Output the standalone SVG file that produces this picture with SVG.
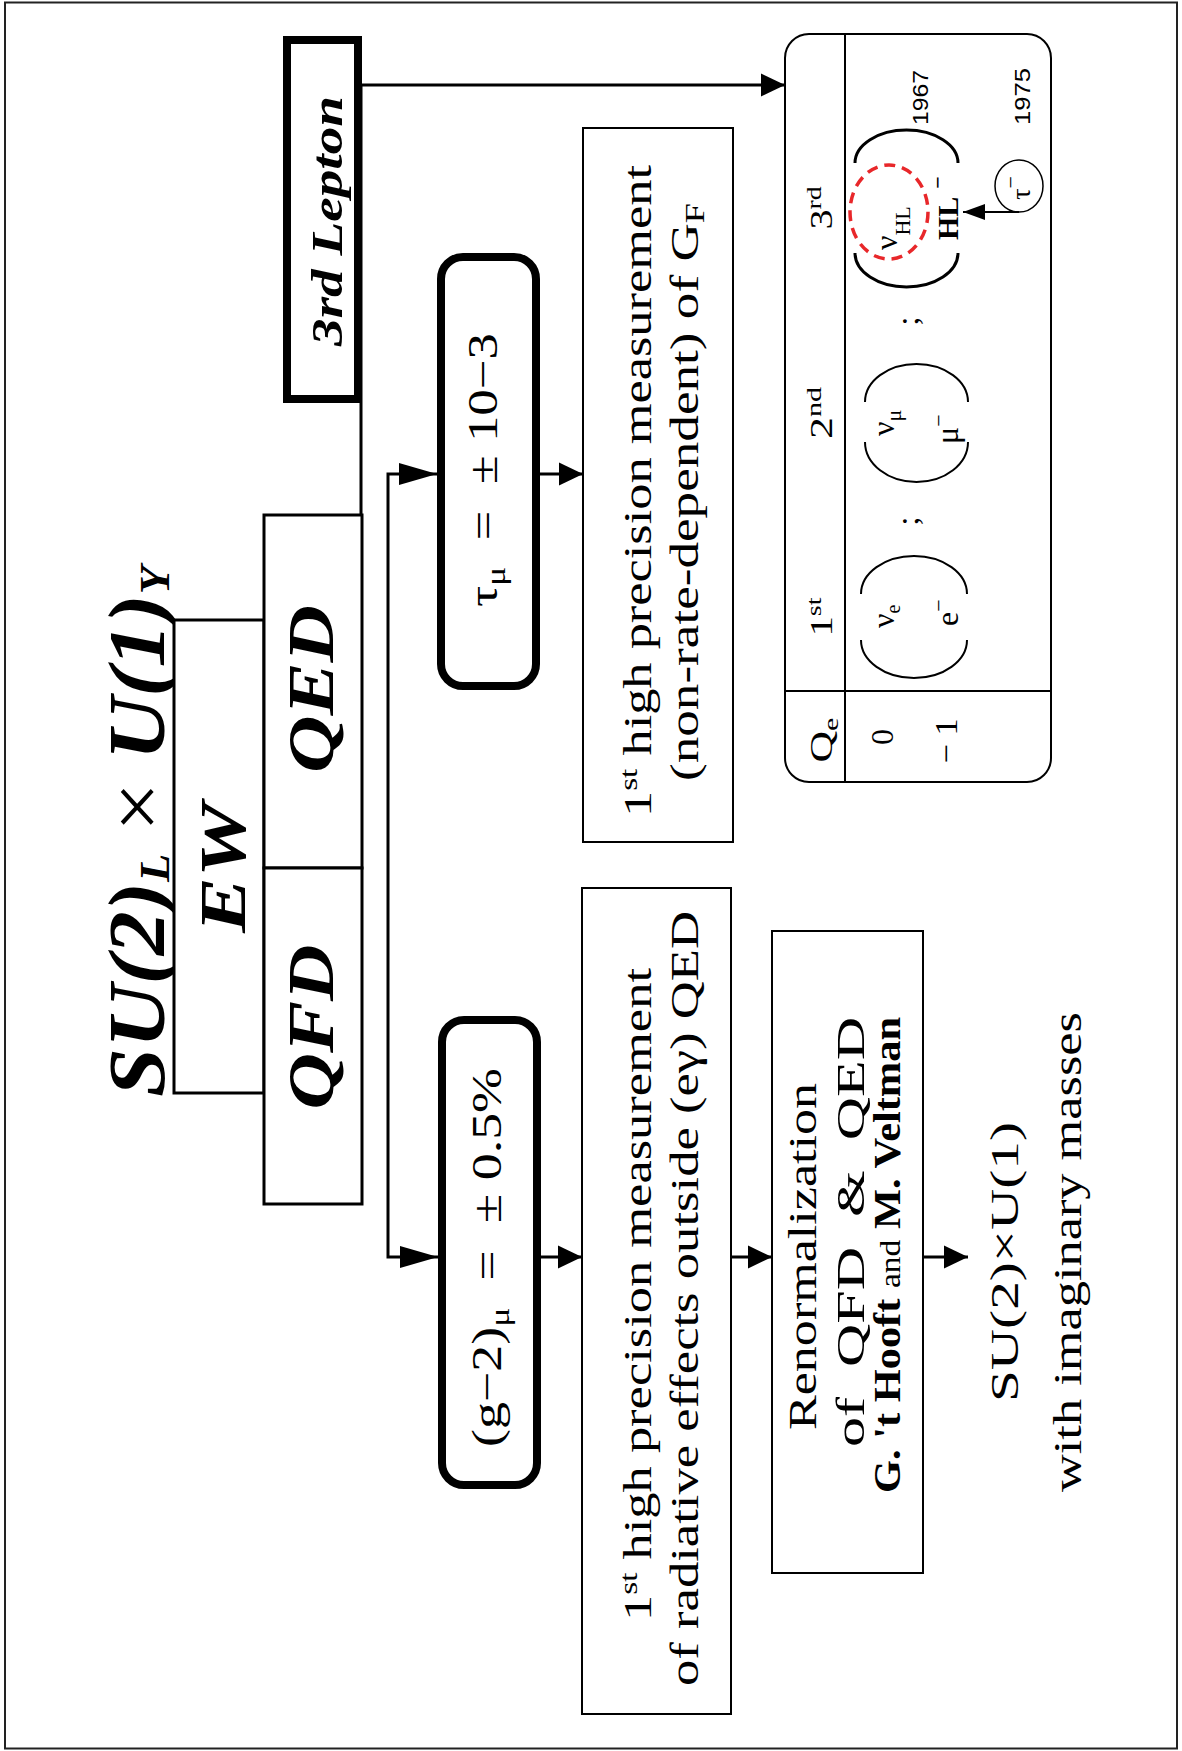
<svg xmlns="http://www.w3.org/2000/svg" width="1182" height="1751" viewBox="0 0 1182 1751">
<style>
.bg{fill:#fff}
.box{fill:#fff;stroke:#000;stroke-width:2}
.mid{stroke-width:3}
.thick{stroke-width:8}
.conn{fill:none;stroke:#000;stroke-width:3}
.thin{fill:none;stroke:#000;stroke-width:2}
.arc3{fill:none;stroke:#000;stroke-width:3}
.serif{font-family:"Liberation Serif","Times New Roman",serif;fill:#000}
.bi{font-weight:bold;font-style:italic}
.b{font-weight:bold}
.sans{font-family:"Liberation Sans",Arial,sans-serif;fill:#000}
</style>
<defs>
<marker id="ah" markerUnits="userSpaceOnUse" markerWidth="26" markerHeight="24" refX="24" refY="12" orient="auto"><path d="M0,0.5 L24,12 L0,23.5 z" fill="#000"/></marker>
<marker id="ahL" markerUnits="userSpaceOnUse" markerWidth="40" markerHeight="24" refX="38" refY="12" orient="auto-start-reverse"><path d="M0,1 L38,12 L0,23 z" fill="#000"/></marker>
<marker id="ahS" markerUnits="userSpaceOnUse" markerWidth="24" markerHeight="18" refX="22" refY="8" orient="auto"><path d="M0,0 L22,8 L0,16 z" fill="#000"/></marker>
</defs>
<rect class="bg" x="0" y="0" width="1182" height="1751"/>
<rect x="5" y="2.5" width="1172" height="1746" fill="none" stroke="#222" stroke-width="2"/>

<g id="title">
<text class="serif bi" transform="translate(164 1097) rotate(-90)" font-size="80" textLength="531" lengthAdjust="spacingAndGlyphs">SU(2)<tspan font-size="42" dy="5">L</tspan><tspan dy="-5"> </tspan><tspan font-weight="normal" font-style="normal">×</tspan> U(1)<tspan font-size="42" dy="5">Y</tspan></text>
</g>

<g id="ew">
<rect class="box mid" x="174" y="620" width="90" height="473"/>
<text class="serif bi" transform="translate(245 933) rotate(-90)" font-size="66" textLength="130" lengthAdjust="spacingAndGlyphs">EW</text>
</g>

<g id="qed">
<rect class="box mid" x="264" y="515" width="98" height="353"/>
<text class="serif bi" transform="translate(333 773) rotate(-90)" font-size="66" textLength="168" lengthAdjust="spacingAndGlyphs">QED</text>
</g>

<g id="qfd">
<rect class="box mid" x="264" y="868" width="98" height="336"/>
<text class="serif bi" transform="translate(333 1109.5) rotate(-90)" font-size="66" textLength="165" lengthAdjust="spacingAndGlyphs">QFD</text>
</g>

<g id="lepton3">
<rect class="box thick" x="287" y="40" width="71" height="359"/>
<text class="serif bi" transform="translate(342 346) rotate(-90)" font-size="44" textLength="250" lengthAdjust="spacingAndGlyphs">3rd Lepton</text>
</g>

<g id="taumu">
<rect class="box thick" x="441" y="257" width="95" height="429" rx="22"/>
<text class="serif" transform="translate(497 607) rotate(-90)" font-size="42" textLength="274" lengthAdjust="spacingAndGlyphs">τ<tspan font-size="28" dy="8">μ</tspan><tspan dy="-8">&#160;&#160;=&#160;&#160;± 10−3</tspan></text>
</g>

<g id="gminus2">
<rect class="box thick" x="442" y="1020" width="95" height="465" rx="22"/>
<text class="serif" transform="translate(501 1447) rotate(-90)" font-size="42" textLength="379" lengthAdjust="spacingAndGlyphs">(g−2)<tspan font-size="28" dy="8">μ</tspan><tspan dy="-8">&#160;&#160;=&#160;&#160;± 0.5%</tspan></text>
</g>

<g id="gf">
<rect class="box" x="583" y="128" width="150" height="714"/>
<text class="serif" transform="translate(651 817) rotate(-90)" font-size="41" textLength="652" lengthAdjust="spacingAndGlyphs">1<tspan font-size="26" dy="-14">st</tspan><tspan dy="14"> high precision measurement</tspan></text>
<text class="serif" transform="translate(698 781) rotate(-90)" font-size="41" textLength="578" lengthAdjust="spacingAndGlyphs">(non-rate-dependent) of G<tspan font-size="28" dy="6">F</tspan></text>
</g>

<g id="radiative">
<rect class="box" x="582" y="888" width="149" height="826"/>
<text class="serif" transform="translate(651 1621) rotate(-90)" font-size="41" textLength="653" lengthAdjust="spacingAndGlyphs">1<tspan font-size="26" dy="-14">st</tspan><tspan dy="14"> high precision measurement</tspan></text>
<text class="serif" transform="translate(698 1686) rotate(-90)" font-size="41" textLength="775" lengthAdjust="spacingAndGlyphs">of radiative effects outside (eγ) QED</text>
</g>

<g id="renorm">
<rect class="box" x="772" y="931" width="151" height="642"/>
<text class="serif" transform="translate(816 1430) rotate(-90)" font-size="40" textLength="347" lengthAdjust="spacingAndGlyphs">Renormalization</text>
<text class="serif" transform="translate(864 1447) rotate(-90)" font-size="40" textLength="430" lengthAdjust="spacingAndGlyphs">of&#160;&#160;QFD&#160;&#160;&amp;&#160;&#160;QED</text>
<text class="serif b" transform="translate(900 1493) rotate(-90)" font-size="38" textLength="476" lengthAdjust="spacingAndGlyphs">G. 't Hooft <tspan font-weight="normal" font-size="30">and</tspan> M. Veltman</text>
</g>

<g id="su2u1">
<text class="serif" transform="translate(1018 1402) rotate(-90)" font-size="40" textLength="280" lengthAdjust="spacingAndGlyphs">SU(2)×U(1)</text>
<text class="serif" transform="translate(1081 1492) rotate(-90)" font-size="40" textLength="480" lengthAdjust="spacingAndGlyphs">with imaginary masses</text>
</g>

<g id="table">
<rect x="785" y="34" width="266" height="748" rx="24" fill="#fff" stroke="#000" stroke-width="2"/>
<line x1="845" y1="34" x2="845" y2="782" stroke="#000" stroke-width="2"/>
<line x1="785" y1="691" x2="1051" y2="691" stroke="#000" stroke-width="2"/>
<text class="serif" transform="translate(832 762.5) rotate(-90)" font-size="32" textLength="45" lengthAdjust="spacingAndGlyphs">Q<tspan font-size="22" dy="6">e</tspan></text>
<text class="serif" transform="translate(832 636.5) rotate(-90)" font-size="32" textLength="39" lengthAdjust="spacingAndGlyphs">1<tspan font-size="22" dy="-11">st</tspan></text>
<text class="serif" transform="translate(832 439) rotate(-90)" font-size="32" textLength="52" lengthAdjust="spacingAndGlyphs">2<tspan font-size="22" dy="-11">nd</tspan></text>
<text class="serif" transform="translate(832 229.5) rotate(-90)" font-size="32" textLength="43" lengthAdjust="spacingAndGlyphs">3<tspan font-size="22" dy="-11">rd</tspan></text>
<text class="serif" transform="translate(893 737) rotate(-90)" text-anchor="middle" font-size="32">0</text>
<text class="serif" transform="translate(957 763.5) rotate(-90)" font-size="32" textLength="45" lengthAdjust="spacingAndGlyphs">−&#160;1</text>
<path class="thin" d="M861,594 A53,38 0 0 1 967,594 M861,640 A53,38 0 0 0 967,640"/>
<text class="serif" transform="translate(894 628) rotate(-90)" font-size="32">ν<tspan font-size="20" dy="6">e</tspan></text>
<text class="serif" transform="translate(958 626) rotate(-90)" font-size="32">e<tspan font-size="22" dy="-12">−</tspan></text>
<text class="serif" transform="translate(918 521) rotate(-90)" text-anchor="middle" font-size="32">;</text>
<path class="thin" d="M865,402 A51.5,38 0 0 1 968,402 M865,442 A51.5,40 0 0 0 968,442"/>
<text class="serif" transform="translate(894 436) rotate(-90)" font-size="32">ν<tspan font-size="22" dy="7">μ</tspan></text>
<text class="serif" transform="translate(958 444) rotate(-90)" font-size="32">μ<tspan font-size="22" dy="-12">−</tspan></text>
<text class="serif" transform="translate(918 321) rotate(-90)" text-anchor="middle" font-size="32">;</text>
<path class="arc3" d="M855,163 A51.5,33 0 0 1 958,163 M855,253 A51.5,34 0 0 0 958,253"/>
<ellipse cx="889" cy="212" rx="39" ry="47" fill="none" stroke="#e8272a" stroke-width="3.5" stroke-dasharray="11 7"/>
<text class="serif" transform="translate(897 250) rotate(-90)" font-size="32">ν<tspan font-size="22" dy="13">HL</tspan></text>
<text class="serif b" transform="translate(958 240) rotate(-90)" font-size="30">HL<tspan font-size="22" dy="-13" dx="8">−</tspan></text>
<text class="sans" transform="translate(928 125) rotate(-90)" font-size="22" textLength="55" lengthAdjust="spacingAndGlyphs">1967</text>
<text class="sans" transform="translate(1030 125) rotate(-90)" font-size="22" textLength="57" lengthAdjust="spacingAndGlyphs">1975</text>
</g>

<g id="tau">
<ellipse cx="1019" cy="186" rx="24" ry="26" fill="#fff" stroke="#000" stroke-width="1.5"/>
<text class="serif" transform="translate(1030 188) rotate(-90)" text-anchor="middle" font-size="28">τ<tspan font-size="22" dy="-12">−</tspan></text>
</g>

<g id="connectors">
<path class="conn" d="M361,85 V515"/>
<path class="conn" d="M361,85 H785" marker-end="url(#ah)"/>
<path class="conn" d="M437,474 H388 V1257 H438" marker-start="url(#ahL)" marker-end="url(#ahL)"/>
<path class="conn" d="M537,474 H583" marker-end="url(#ah)"/>
<path class="conn" d="M537,1257 H582" marker-end="url(#ah)"/>
<path class="conn" d="M731,1257 H772" marker-end="url(#ah)"/>
<path class="conn" d="M923,1257 H968" marker-end="url(#ah)"/>
<path d="M1019,212 H963" fill="none" stroke="#000" stroke-width="2" marker-end="url(#ahS)"/>
</g>
</svg>
